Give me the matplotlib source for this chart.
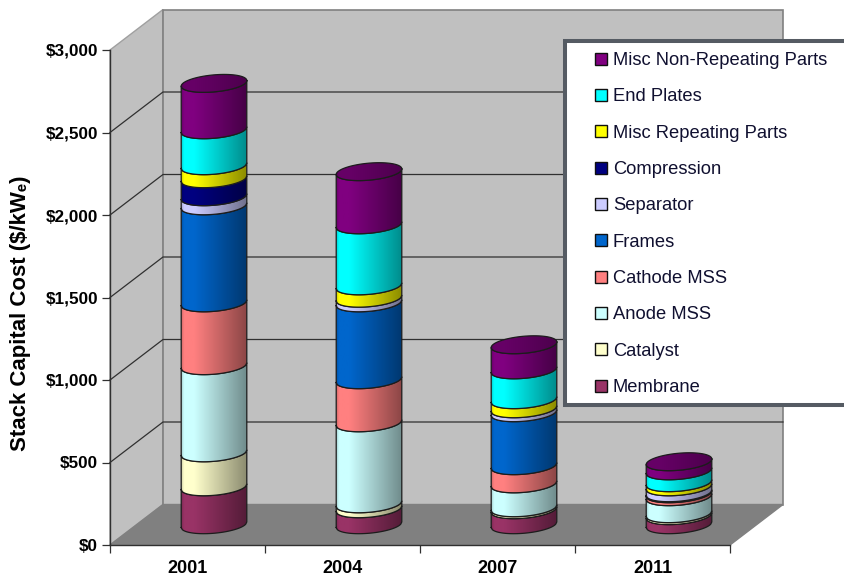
import numpy as np
import matplotlib
matplotlib.use('Agg')
import matplotlib.pyplot as plt
from matplotlib.lines import Line2D
from matplotlib.patches import Polygon, Rectangle
from matplotlib.colors import to_rgb

plt.rcParams['font.family'] = ['Liberation Sans', 'DejaVu Sans']

years = ['2001', '2004', '2007', '2011']
yticks = [0, 500, 1000, 1500, 2000, 2500, 3000]

# stacked values, bottom to top, $/kWe
membrane = [230, 97, 91, 55]
catalyst = [206, 30, 12, 12]
anode = [528, 491, 145, 103]
cathode = [381, 261, 110, 18]
frames = [588, 466, 321, 6]
separator = [55, 28, 24, 36]
compression = [109, 0, 0, 0]
misc_rep = [79, 75, 55, 25]
end_plates = [218, 370, 181, 72]
misc_nonrep = [281, 322, 152, 55]

names = ['Membrane', 'Catalyst', 'Anode MSS', 'Cathode MSS', 'Frames', 'Separator',
         'Compression', 'Misc Repeating Parts', 'End Plates', 'Misc Non-Repeating Parts']
colors = ['#993366', '#FFFFCC', '#CCFFFF', '#FF8080', '#0066CC', '#CCCCFF',
          '#000080', '#FFFF00', '#00FFFF', '#800080']
series = [membrane, catalyst, anode, cathode, frames, separator,
          compression, misc_rep, end_plates, misc_nonrep]

# pixels to data units, front plane is 155 px per category and 82.5 px per $500
PX = 1 / 155.0
PY = 500 / 82.5
depth_x = 53 * PX
depth_y = 40.5 * PY
radius = 32.8 * PX
ell_b = 8.5 * PY
shear = 0.085 * PY / PX

fig = plt.figure(figsize=(8.44, 5.77), dpi=100)
ax = fig.add_axes([110 / 844, 32 / 577, 620 / 844, 495 / 577])
ax.set_xlim(0, 4)
ax.set_ylim(0, 3000)
ax.patch.set_visible(False)

wall_edge = '#808080'
# side wall, back wall, floor
ax.add_patch(Polygon([(0, 0), (depth_x, depth_y), (depth_x, 3000 + depth_y), (0, 3000)],
                     fc='#C0C0C0', ec='#A0A0A0', lw=1, clip_on=False, zorder=1))
ax.add_patch(Polygon([(depth_x, depth_y), (4 + depth_x, depth_y), (4 + depth_x, 3000 + depth_y),
                      (depth_x, 3000 + depth_y)],
                     fc='#C0C0C0', ec=wall_edge, lw=1.2, clip_on=False, zorder=1))
ax.add_patch(Polygon([(0, 0), (4, 0), (4 + depth_x, depth_y), (depth_x, depth_y)],
                     fc='#808080', ec='#808080', lw=1, clip_on=False, zorder=1))

for v in yticks[1:-1]:
    ax.plot([0, depth_x, 4 + depth_x], [v, v + depth_y, v + depth_y], color='#303030',
            lw=0.9, clip_on=False, zorder=2)


def shade(color, lo, hi, n=80):
    t = np.linspace(0, 1, n)
    ramp = np.interp(t, [0, 0.04, 0.2, 1], [0.8 * hi, hi, hi, lo])
    return (np.array(to_rgb(color))[None, :] * ramp[:, None])[None, :, :]


def front_curve(xs, cx, level):
    u = (xs - cx) / radius
    return level + shear * (xs - cx) - ell_b * np.sqrt(np.clip(1 - u ** 2, 0, 1))


def gradient(poly, color, x0, x1, lo, hi):
    ax.add_patch(poly)
    im = ax.imshow(shade(color, lo, hi), extent=(x0, x1, 0, 3000), aspect='auto',
                   zorder=poly.get_zorder(), interpolation='bilinear')
    im.set_clip_path(poly)


for i in range(len(years)):
    cx = i + 0.5 + depth_x / 2
    xs = np.linspace(cx - radius, cx + radius, 60)
    x0, x1 = cx - radius, cx + radius
    base = depth_y / 2
    z = 5
    last = colors[0]
    for vals, col in zip(series, colors):
        v = vals[i]
        if v == 0:
            continue
        low = front_curve(xs, cx, base)
        high = front_curve(xs, cx, base + v)
        pts = np.r_[np.c_[xs, low], np.c_[xs, high][::-1]]
        gradient(Polygon(pts, fc='none', ec='none', zorder=z), col, x0, x1, 0.55, 1.0)
        ax.plot(pts[:, 0].tolist() + [pts[0, 0]], pts[:, 1].tolist() + [pts[0, 1]],
                color='#1c1c1c', lw=0.9, zorder=z + 0.5)
        base += v
        last = col
        z += 1
    # lid of the cylinder
    t = np.linspace(0, 2 * np.pi, 120)
    ex = cx + radius * np.cos(t)
    ey = base + shear * radius * np.cos(t) + ell_b * np.sin(t)
    gradient(Polygon(np.c_[ex, ey], fc='none', ec='none', zorder=z), last, x0, x1, 0.6, 0.8)
    ax.plot(ex, ey, color='#1c1c1c', lw=0.9, zorder=z + 0.5)

for s in ['top', 'right']:
    ax.spines[s].set_visible(False)
for s in ['left', 'bottom']:
    ax.spines[s].set_color('#303030')
    ax.spines[s].set_linewidth(1.0)
    ax.spines[s].set_zorder(3)

ax.set_yticks(yticks)
ax.set_yticklabels(['$%s' % format(v, ',') for v in yticks], fontweight='bold', fontsize=12.3)
ax.set_xticks(range(5))
ax.set_xticklabels([])
ax.set_xticks([i + 0.5 for i in range(4)], minor=True)
ax.set_xticklabels(years, minor=True, fontweight='bold', fontsize=13)
ax.tick_params(axis='x', which='major', length=5.5, width=0.9, color='#303030')
ax.tick_params(axis='x', which='minor', length=0, pad=11)
ax.tick_params(axis='y', length=5.5, width=0.9, color='#303030', pad=3)

fig.text(21 / 844, 1 - 313 / 577, 'Stack Capital Cost ($/kW\u2091)', rotation=90,
         ha='center', va='center', fontweight='bold', fontsize=16)

# legend box runs off the right edge of the picture
fig.add_artist(Rectangle((565 / 844, 1 - 404.5 / 577), 300 / 844, 363.5 / 577, fc='white',
                         ec='#555B63', lw=2.9, transform=fig.transFigure, zorder=40))
handles = [Line2D([], [], marker='s', ls='none', mfc=c, mec='#101010', mew=1, ms=8)
           for c in colors[::-1]]
leg = fig.legend(handles, names[::-1], loc='upper left', bbox_to_anchor=(593.6 / 844, 1 - 52 / 577),
                 bbox_transform=fig.transFigure, borderaxespad=0, fontsize=13.26, numpoints=1,
                 frameon=False, labelspacing=1.05, handlelength=0.8, handletextpad=0.25,
                 borderpad=0)
leg.set_zorder(50)
for txt in leg.get_texts():
    txt.set_color('#101030')

fig.savefig('out.png', dpi=100)
